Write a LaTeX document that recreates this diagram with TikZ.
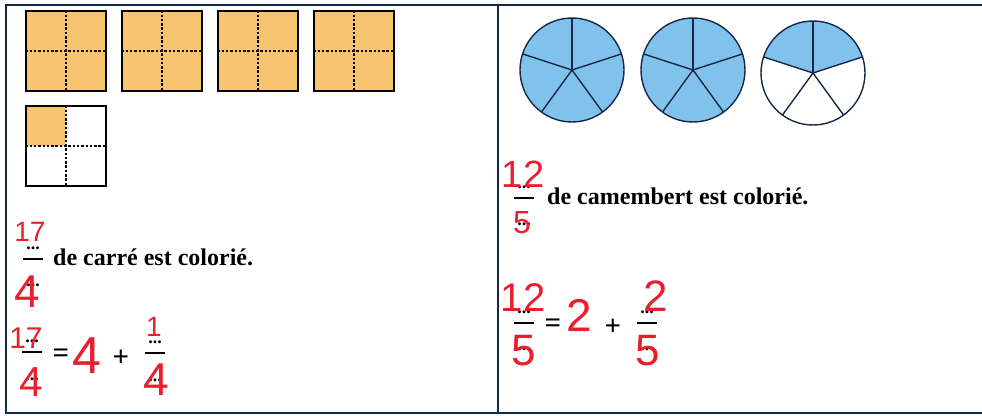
\documentclass[tikz,border=0pt]{standalone}
\usepackage{fontspec}
\setmainfont{Liberation Serif}
\newfontfamily\stylofont{Liberation Sans}
\usepackage{tikz}
\usetikzlibrary{positioning}
\definecolor{orangecarre}{RGB}{246,196,110}
\definecolor{bleucam}{RGB}{128,194,236}
\definecolor{traitcam}{RGB}{22,40,72}
\definecolor{stylo}{RGB}{236,30,46}

% fraction a trous : nom, x, y de la barre
\newcommand{\fractrou}[3]{%
    \node[points, anchor=base] (#1n) at (#2,#3+9) {...};
    \draw[barre] (#2-10,#3) -- (#2+10,#3);
    \node[points, anchor=base] (#1d) at (#2,#3-28) {...};
}

\begin{document}
\begin{tikzpicture}[x=1pt, y=1pt,
    carre/.style={draw=black, line width=1.4pt, minimum size=80pt, inner sep=0pt},
    pointille/.style={line width=1.4pt, dash pattern=on 2.5pt off 1.8pt},
    texte/.style={font=\bfseries\fontsize{24}{28}\selectfont, inner sep=0pt, anchor=base west},
    points/.style={font=\bfseries\fontsize{18}{18}\selectfont, inner sep=0pt},
    signe/.style={font=\bfseries\fontsize{29}{29}\selectfont, inner sep=0pt},
    barre/.style={line width=1.6pt},
    rouge/.style={text=stylo, inner sep=0pt, font=\stylofont\fontsize{#1}{#1}\selectfont}]

    \useasboundingbox (0,0) rectangle (982,415);

    % cadre
    \draw[line width=1.5pt, traitcam] (982,410) -- (6,410) -- (6,2) -- (982,2);
    \draw[line width=1.5pt, traitcam] (498,410) -- (498,2);

    % carres
    \foreach \i in {0,...,3} {
        \node[carre, fill=orangecarre] (c\i) at (66+96*\i,364) {};
        \draw[pointille] (c\i.north) -- (c\i.south) (c\i.west) -- (c\i.east);
    }
    \fill[orangecarre] (26,269) rectangle (66,309);
    \node[carre] (c4) at (66,269) {};
    \draw[pointille] (c4.north) -- (c4.south) (c4.west) -- (c4.east);

    % camemberts
    \coordinate (m1) at (572,345);
    \coordinate (m2) at (693,345);
    \coordinate (m3) at (813,342);
    \fill[bleucam] (m1) circle (52);
    \fill[bleucam] (m2) circle (52);
    \fill[bleucam] (m3) -- ++(18:52) arc (18:162:52) -- cycle;
    \foreach \k in {1,2,3} {
        \draw[traitcam, line width=1.4pt] (m\k) circle (52);
        \foreach \a in {18,90,162,234,306}
            \draw[traitcam, line width=1.4pt] (m\k) -- ++(\a:52);
    }

    % carres : premiere ligne
    \fractrou{fa}{33}{156}
    \node[texte] (phrase1) at (53,149) {de carré est colorié.};
    \node[rouge=28] (r17a) at (30,183) {17};
    \node[rouge=46] (r4a) at (27,123) {4};

    % carres : decomposition
    \fractrou{fb}{32}{63}
    \node[signe] (egal1) at (61,59) {=};
    \node[points, anchor=base] (fbe) at (87,51) {...};
    \node[signe] (plus1) at (121,57) {+};
    \fractrou{fc}{155}{62}
    \node[rouge=30] (r17b) at (26,77) {17};
    \node[rouge=42] (r4b) at (31,33) {4};
    \node[rouge=52] (r4e) at (87,59) {4};
    \node[rouge=28] (r1) at (154,88) {1};
    \node[rouge=46] (r4c) at (156,35) {4};

    % camemberts : premiere ligne
    \fractrou{fd}{524}{217}
    \node[texte] (phrase2) at (547,210) {de camembert est colorié.};
    \node[rouge=38] (r12a) at (523,241) {12};
    \node[rouge=32] (r5a) at (522,192) {5};

    % camemberts : decomposition
    \fractrou{fe}{524}{92}
    \node[signe] (egal2) at (553,89) {=};
    \node[points, anchor=base] (fee) at (580,83) {...};
    \node[signe] (plus2) at (613,88) {+};
    \fractrou{ff}{647}{92}
    \node[rouge=40] (r12b) at (523,117) {12};
    \node[rouge=44] (r5b) at (524,64) {5};
    \node[rouge=46] (r2e) at (579,100) {2};
    \node[rouge=44] (r2b) at (656,119) {2};
    \node[rouge=44] (r5c) at (648,64) {5};

\end{tikzpicture}
\end{document}
